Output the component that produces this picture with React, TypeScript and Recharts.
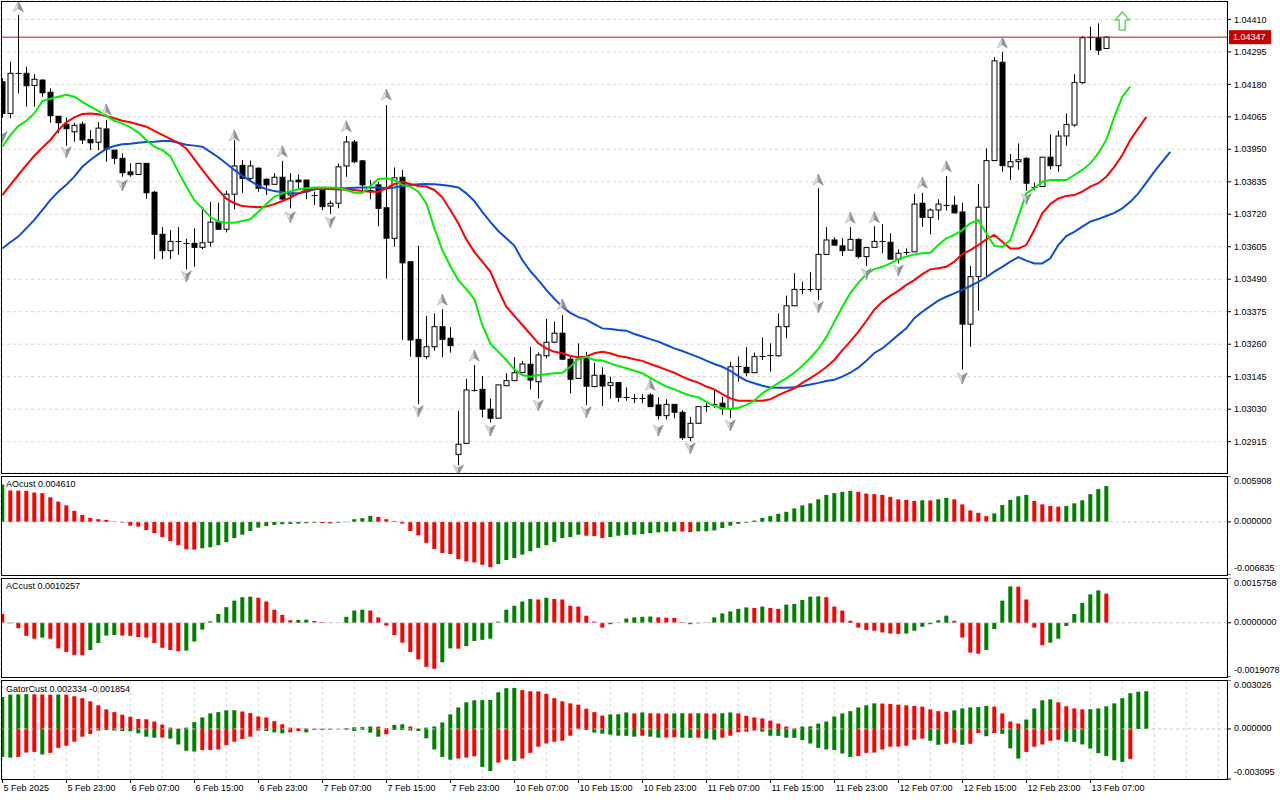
import React from 'react';
import { ComposedChart, Bar, Line, Scatter, XAxis, YAxis, CartesianGrid, ReferenceLine, Cell } from 'recharts';

const FONT = 'Tahoma, "Liberation Sans", Arial, sans-serif';
const FS = 9;
const GREEN = '#008000';
const RED = '#ff0000';

// ---------------- data ----------------
const priceTicks = [1.0441, 1.04295, 1.0418, 1.04065, 1.0395, 1.03835, 1.0372, 1.03605, 1.0349, 1.03375, 1.0326, 1.03145, 1.0303, 1.02915];
const lastPrice = 1.04347;

const timeLabelBars = [0, 8, 16, 24, 32, 40, 48, 56, 64, 72, 80, 88, 96, 104, 112, 120, 128, 136];
const timeLabels = ['5 Feb 2025', '5 Feb 23:00', '6 Feb 07:00', '6 Feb 15:00', '6 Feb 23:00', '7 Feb 07:00', '7 Feb 15:00', '7 Feb 23:00', '10 Feb 07:00', '10 Feb 15:00', '10 Feb 23:00', '11 Feb 07:00', '11 Feb 15:00', '11 Feb 23:00', '12 Feb 07:00', '12 Feb 15:00', '12 Feb 23:00', '13 Feb 07:00'];

const candleOpen = [
  1.04189, 1.04077, 1.04218, 1.04219, 1.04176, 1.04195, 1.04152, 1.04067, 1.04039, 1.04012,
  1.04039, 1.03985, 1.03975, 1.04022, 1.03947, 1.03918, 1.0387, 1.03861, 1.039, 1.03798,
  1.03649, 1.03591, 1.03623, 1.03618, 1.03617, 1.03603, 1.03621, 1.03692, 1.03667, 1.03791,
  1.03893, 1.03847, 1.03883, 1.03844, 1.03826, 1.03851, 1.03788, 1.03841, 1.03841, 1.03788,
  1.03806, 1.03749, 1.03759, 1.03891, 1.03976, 1.03909, 1.03806, 1.03824, 1.03743, 1.03635,
  1.03851, 1.03552, 1.03277, 1.03216, 1.03251, 1.03322, 1.03281, 1.0287, 1.02909, 1.03098,
  1.031, 1.0303, 1.02998, 1.03113, 1.03131, 1.0316, 1.03189, 1.03127, 1.03219, 1.03267,
  1.03299, 1.03207, 1.03139, 1.0321, 1.0311, 1.0315, 1.03114, 1.03124, 1.03071, 1.03068,
  1.03068, 1.0308, 1.03045, 1.03007, 1.03047, 1.03019, 1.0293, 1.0298, 1.03041, 1.03048,
  1.03051, 1.03031, 1.0318, 1.03178, 1.03159, 1.03218, 1.03223, 1.03219, 1.03322, 1.03396,
  1.03454, 1.03454, 1.03454, 1.03578, 1.03629, 1.03608, 1.03593, 1.03631, 1.0357, 1.03603,
  1.03623, 1.03621, 1.03561, 1.03585, 1.03587, 1.03759, 1.03709, 1.03735, 1.03753, 1.03752,
  1.03728, 1.03331, 1.03499, 1.03745, 1.0391, 1.04258, 1.03888, 1.03906, 1.03918, 1.03815,
  1.03818, 1.03922, 1.03892, 1.03997, 1.04036, 1.04186, 1.04345, 1.04345, 1.04307,
];
const candleHigh = [
  1.04202, 1.0426, 1.04425, 1.04242, 1.04216, 1.04198, 1.04166, 1.04067, 1.04063, 1.04044,
  1.04048, 1.04018, 1.04046, 1.04054, 1.03947, 1.03936, 1.039, 1.03901, 1.03901, 1.03802,
  1.03674, 1.03664, 1.03674, 1.03633, 1.0367, 1.03745, 1.03764, 1.03761, 1.03803, 1.03983,
  1.03912, 1.0391, 1.03886, 1.03847, 1.03865, 1.03909, 1.03865, 1.03861, 1.03841, 1.038,
  1.03815, 1.03768, 1.039, 1.03997, 1.03983, 1.03912, 1.03841, 1.03835, 1.04107, 1.03886,
  1.03877, 1.03552, 1.03608, 1.0336, 1.03369, 1.03384, 1.0332, 1.03024, 1.03137, 1.03186,
  1.03147, 1.03068, 1.03116, 1.03157, 1.03214, 1.03201, 1.03251, 1.03231, 1.03349, 1.0334,
  1.03363, 1.03216, 1.03263, 1.03233, 1.03194, 1.03178, 1.03145, 1.03124, 1.03107, 1.03083,
  1.03083, 1.03086, 1.03072, 1.03065, 1.03047, 1.03027, 1.03003, 1.03041, 1.03056, 1.031,
  1.03074, 1.03198, 1.03216, 1.03249, 1.0323, 1.03284, 1.03263, 1.03369, 1.03432, 1.03511,
  1.03481, 1.03516, 1.03812, 1.03674, 1.03638, 1.03635, 1.03674, 1.03635, 1.03604, 1.03678,
  1.03685, 1.03653, 1.03596, 1.03599, 1.03792, 1.03796, 1.03741, 1.03773, 1.03855, 1.03785,
  1.03761, 1.03537, 1.03827, 1.03953, 1.04276, 1.04295, 1.03933, 1.03971, 1.03922, 1.03832,
  1.03923, 1.04003, 1.04016, 1.04077, 1.04216, 1.04351, 1.04384, 1.04396, 1.0435,
];
const candleLow = [
  1.04061, 1.0406, 1.04148, 1.04101, 1.04101, 1.04136, 1.04044, 1.04007, 1.03963, 1.03977,
  1.03969, 1.03947, 1.03947, 1.03906, 1.03897, 1.03853, 1.03853, 1.0386, 1.03774, 1.03561,
  1.03561, 1.03561, 1.03576, 1.03525, 1.03534, 1.03596, 1.03605, 1.03667, 1.03656, 1.03738,
  1.03796, 1.03835, 1.038, 1.03788, 1.03824, 1.0377, 1.03741, 1.03806, 1.03773, 1.03753,
  1.03735, 1.03721, 1.03741, 1.03853, 1.039, 1.03794, 1.03773, 1.03678, 1.03493, 1.03605,
  1.03275, 1.03216, 1.03048, 1.03207, 1.03237, 1.03214, 1.0323, 1.02832, 1.02909, 1.03092,
  1.03001, 1.02982, 1.02998, 1.03113, 1.03131, 1.03157, 1.031, 1.03068, 1.0321, 1.03264,
  1.03204, 1.03086, 1.03139, 1.03045, 1.03107, 1.03041, 1.03068, 1.03056, 1.0306, 1.03051,
  1.03051, 1.03039, 1.02994, 1.02994, 1.02998, 1.02921, 1.02917, 1.0298, 1.03021, 1.03034,
  1.03009, 1.02998, 1.03127, 1.03147, 1.03159, 1.03204, 1.03163, 1.03216, 1.03281, 1.03395,
  1.03438, 1.03446, 1.03416, 1.03576, 1.03608, 1.03572, 1.03593, 1.03564, 1.03537, 1.03603,
  1.03582, 1.03561, 1.03546, 1.03576, 1.03587, 1.03676, 1.03649, 1.037, 1.03733, 1.03723,
  1.03171, 1.03251, 1.03379, 1.03499, 1.0391, 1.03871, 1.03841, 1.03877, 1.03803, 1.03806,
  1.03818, 1.03879, 1.03871, 1.03963, 1.0403, 1.04181, 1.04301, 1.04284, 1.04307,
];
const candleClose = [
  1.04077, 1.04219, 1.0422, 1.04175, 1.04198, 1.0415, 1.04069, 1.04044, 1.04023, 1.04035,
  1.03983, 1.03973, 1.04025, 1.03951, 1.03918, 1.03867, 1.0386, 1.039, 1.03796, 1.03649,
  1.03591, 1.03624, 1.03624, 1.03616, 1.03603, 1.03619, 1.03692, 1.03667, 1.03791, 1.03891,
  1.03847, 1.03891, 1.03812, 1.03824, 1.03851, 1.03774, 1.03838, 1.03835, 1.038, 1.03787,
  1.03747, 1.03759, 1.03888, 1.03976, 1.03906, 1.03824, 1.03805, 1.03741, 1.03635, 1.03849,
  1.03548, 1.03275, 1.03216, 1.03251, 1.03322, 1.03277, 1.03255, 1.02906, 1.03098, 1.03099,
  1.0303, 1.02998, 1.03116, 1.03131, 1.03159, 1.0319, 1.03133, 1.03222, 1.03267, 1.03299,
  1.03207, 1.03136, 1.03207, 1.03111, 1.0315, 1.03112, 1.03124, 1.03072, 1.03072, 1.0307,
  1.03067, 1.03039, 1.03007, 1.03047, 1.03019, 1.02929, 1.0298, 1.03039, 1.03042, 1.03047,
  1.03031, 1.0318, 1.03182, 1.03159, 1.03216, 1.03219, 1.03222, 1.03322, 1.03396, 1.03454,
  1.03455, 1.03455, 1.03578, 1.03629, 1.03611, 1.03591, 1.03631, 1.0357, 1.03602, 1.03624,
  1.03624, 1.03561, 1.03582, 1.03586, 1.03756, 1.03709, 1.03735, 1.03756, 1.03754, 1.03725,
  1.03331, 1.03499, 1.03745, 1.0391, 1.04263, 1.03892, 1.03906, 1.03913, 1.0383, 1.03816,
  1.03922, 1.03892, 1.03997, 1.04038, 1.04186, 1.04345, 1.04346, 1.04301, 1.04347,
];

// Alligator lines (already shifted forward as drawn)
const lipsLine = [
  1.03959, 1.04, 1.04032, 1.04051, 1.04077, 1.04121, 1.04129, 1.04136, 1.04143, 1.04136,
  1.04118, 1.04101, 1.04086, 1.04068, 1.04051, 1.04042, 1.04028, 1.04009, 1.03983, 1.03959,
  1.03947, 1.03926, 1.03871, 1.03818, 1.0377, 1.03741, 1.03711, 1.03694, 1.0369, 1.0369,
  1.03696, 1.03702, 1.03729, 1.03756, 1.03782, 1.03794, 1.03802, 1.03808, 1.03812, 1.03815,
  1.03815, 1.03815, 1.03814, 1.03806, 1.03796, 1.03796, 1.0382, 1.03845, 1.03847, 1.03841,
  1.03824, 1.03818, 1.038, 1.03759, 1.03671, 1.03593, 1.03537, 1.03487, 1.03455, 1.0342,
  1.03328, 1.03263, 1.03233, 1.03204, 1.03171, 1.03151, 1.03145, 1.03151, 1.03154, 1.03157,
  1.03159, 1.0318, 1.03207, 1.03215, 1.03204, 1.03202, 1.03192, 1.03183, 1.03175, 1.03166,
  1.03157, 1.03141, 1.03125, 1.0311, 1.031, 1.03088, 1.03078, 1.03072, 1.03056, 1.03041,
  1.03034, 1.03031, 1.03034, 1.03045, 1.0306, 1.03086, 1.03104, 1.03122, 1.03139, 1.03159,
  1.03183, 1.03211, 1.03243, 1.03285, 1.03339, 1.03392, 1.03441, 1.03477, 1.03508, 1.03526,
  1.03534, 1.03546, 1.03561, 1.0357, 1.03578, 1.03582, 1.03584, 1.03611, 1.03635, 1.03647,
  1.03664, 1.03688, 1.037, 1.03653, 1.03608, 1.03605, 1.03629, 1.03711, 1.03794, 1.03812,
  1.03835, 1.03841, 1.03841, 1.03841, 1.03859, 1.03877, 1.039, 1.03936, 1.03983, 1.04065,
  1.04136, 1.04172,
];
const teethLine = [
  1.03788, 1.03824, 1.03859, 1.03894, 1.03927, 1.03956, 1.03983, 1.04018, 1.04046, 1.04063,
  1.04075, 1.04077, 1.04074, 1.04068, 1.0406, 1.04051, 1.04046, 1.04038, 1.0403, 1.04015,
  1.04001, 1.03987, 1.03973, 1.03953, 1.03915, 1.03877, 1.03841, 1.03806, 1.03775, 1.03759,
  1.03749, 1.03747, 1.03745, 1.03747, 1.03756, 1.03767, 1.03779, 1.03793, 1.03806, 1.03809,
  1.03809, 1.03809, 1.03808, 1.03808, 1.03806, 1.03802, 1.038, 1.038, 1.03812, 1.03827,
  1.03835, 1.03827, 1.0382, 1.03818, 1.03806, 1.0378, 1.03735, 1.03688, 1.03631, 1.03587,
  1.03552, 1.03517, 1.03452, 1.03393, 1.0336, 1.03328, 1.03296, 1.03263, 1.03245, 1.03233,
  1.03228, 1.03218, 1.03214, 1.03216, 1.03228, 1.03233, 1.03228, 1.03218, 1.03214, 1.03207,
  1.03201, 1.0319, 1.0318, 1.03169, 1.03159, 1.03145, 1.03133, 1.03124, 1.0311, 1.031,
  1.03083, 1.03068, 1.0306, 1.0306, 1.0306, 1.0306, 1.03065, 1.0308, 1.03092, 1.03104,
  1.03123, 1.0314, 1.03158, 1.03179, 1.03204, 1.03238, 1.0327, 1.03304, 1.03342, 1.03382,
  1.0341, 1.03431, 1.03449, 1.0347, 1.03487, 1.03508, 1.03525, 1.03529, 1.03534, 1.03552,
  1.03579, 1.03593, 1.03611, 1.03631, 1.03647, 1.03623, 1.03599, 1.03599, 1.03611, 1.03664,
  1.03723, 1.03756, 1.03776, 1.03785, 1.03788, 1.038, 1.03818, 1.0383, 1.03853, 1.03888,
  1.0393, 1.03983, 1.04024, 1.04065,
];
const jawLine = [
  1.03599, 1.03621, 1.03641, 1.0367, 1.037, 1.03735, 1.0377, 1.038, 1.03824, 1.03853,
  1.03888, 1.03912, 1.03933, 1.03951, 1.03962, 1.03968, 1.0397, 1.03973, 1.03976, 1.03977,
  1.03979, 1.03979, 1.03973, 1.03966, 1.03963, 1.03959, 1.03941, 1.03922, 1.039, 1.03877,
  1.03856, 1.03838, 1.03821, 1.03809, 1.03802, 1.03798, 1.03794, 1.03794, 1.038, 1.03808,
  1.03812, 1.03812, 1.03812, 1.03812, 1.03814, 1.03815, 1.03815, 1.03815, 1.03812, 1.03815,
  1.0382, 1.03824, 1.03826, 1.03827, 1.03826, 1.03824, 1.0382, 1.03815, 1.03794, 1.03767,
  1.03728, 1.03693, 1.03661, 1.03635, 1.03609, 1.03558, 1.03519, 1.03487, 1.03452, 1.03421,
  1.03393, 1.03371, 1.03356, 1.03347, 1.03331, 1.03316, 1.03314, 1.0331, 1.03308, 1.03296,
  1.03287, 1.03278, 1.03269, 1.03257, 1.03245, 1.03236, 1.03225, 1.03214, 1.03202, 1.0319,
  1.0318, 1.03166, 1.03147, 1.03131, 1.03122, 1.03113, 1.03107, 1.03106, 1.03106, 1.03108,
  1.03112, 1.03117, 1.03123, 1.0313, 1.03134, 1.03145, 1.03159, 1.03177, 1.03201, 1.03229,
  1.03245, 1.03269, 1.03293, 1.03316, 1.03352, 1.03375, 1.03395, 1.03414, 1.03428, 1.0344,
  1.03452, 1.03466, 1.03481, 1.03497, 1.03517, 1.03534, 1.03552, 1.03568, 1.03556, 1.03546,
  1.03546, 1.03564, 1.03611, 1.03643, 1.03658, 1.03676, 1.03694, 1.03703, 1.03714, 1.03725,
  1.03741, 1.03764, 1.03794, 1.03832, 1.03871, 1.03906, 1.03941,
];

const fractalUpBars = [2, 13, 29, 35, 43, 48, 55, 59, 70, 81, 102, 106, 109, 115, 118, 125];
const fractalUpPrices = [1.04455, 1.04089, 1.03997, 1.03941, 1.0403, 1.04142, 1.03416, 1.03218, 1.03399, 1.03114, 1.03841, 1.03706, 1.03708, 1.0383, 1.03888, 1.04327];
const fractalDownBars = [0, 8, 15, 23, 36, 41, 52, 57, 61, 67, 73, 82, 86, 91, 102, 108, 112, 120, 128];
const fractalDownPrices = [1.03995, 1.03941, 1.03824, 1.03501, 1.03711, 1.03694, 1.03024, 1.02815, 1.02956, 1.03045, 1.03021, 1.02956, 1.02893, 1.02974, 1.03393, 1.03511, 1.03523, 1.03141, 1.03776];
const buySignalBar = 140;
const buySignalPrice = 1.04404;

const aoValues = [
  0.00483, 0.00404, 0.00402, 0.004, 0.00378, 0.0037, 0.00317, 0.00261, 0.00213, 0.00143,
  0.00091, 0.00052, 0.00035, 0.00026, 0.00004, -0.00009, -0.00048, -0.00061, -0.00104, -0.00143,
  -0.00196, -0.00248, -0.003, -0.00352, -0.00357, -0.00339, -0.00326, -0.003, -0.00261, -0.00209,
  -0.00165, -0.00117, -0.00074, -0.00052, -0.00039, -0.0003, -0.00026, -0.00022, -0.00017, -0.00013,
  -0.00016, -0.0002, -0.00013, -0.00004, 0.00035, 0.00048, 0.00078, 0.00065, 0.00035, 0.00009,
  -0.00022, -0.00117, -0.00174, -0.0027, -0.00348, -0.004, -0.00413, -0.00478, -0.00509, -0.00522,
  -0.00552, -0.00583, -0.00543, -0.00491, -0.00465, -0.00422, -0.00378, -0.00335, -0.003, -0.00257,
  -0.00209, -0.00196, -0.00165, -0.00178, -0.00183, -0.00209, -0.00196, -0.00178, -0.0017, -0.00165,
  -0.00157, -0.00143, -0.00135, -0.00126, -0.00122, -0.00124, -0.0013, -0.00122, -0.0012, -0.00109,
  -0.00078, -0.00048, -0.00026, -0.00013, 0.00017, 0.00052, 0.00074, 0.00104, 0.0013, 0.00174,
  0.00213, 0.00239, 0.00291, 0.00348, 0.0037, 0.00387, 0.004, 0.00387, 0.00365, 0.00357,
  0.00348, 0.00322, 0.00291, 0.00283, 0.0027, 0.00278, 0.00276, 0.00291, 0.00309, 0.00291,
  0.00226, 0.00148, 0.00117, 0.00074, 0.00109, 0.00217, 0.00283, 0.0033, 0.00348, 0.0027,
  0.00226, 0.00204, 0.00196, 0.00204, 0.00239, 0.00278, 0.00357, 0.00422, 0.00461,
];
const acValues = [
  0.00031, -0.00002, -0.00019, -0.00046, -0.00056, -0.00052, -0.00056, -0.0009, -0.00103, -0.00113,
  -0.00114, -0.00096, -0.00071, -0.00045, -0.00043, -0.00045, -0.00046, -0.0005, -0.00052, -0.00071,
  -0.00088, -0.00096, -0.001, -0.00098, -0.00066, -0.00024, 0.00005, 0.00031, 0.00055, 0.00078,
  0.0009, 0.00092, 0.00088, 0.00075, 0.00046, 0.00028, 0.00009, 0.0001, 0.00011, 0.00006,
  0.00002, -0.00001, 0.0, 0.00021, 0.00043, 0.00046, 0.00043, 0.00019, -0.0001, -0.00043,
  -0.0007, -0.00103, -0.00129, -0.00155, -0.00162, -0.00139, -0.0009, -0.00091, -0.00082, -0.00064,
  -0.0006, -0.00056, 0.00004, 0.00046, 0.0006, 0.00075, 0.00084, 0.00082, 0.00088, 0.00084,
  0.00082, 0.0006, 0.00057, 0.00025, 0.00004, -0.00017, -0.00005, 0.00001, 0.00015, 0.00019,
  0.00021, 0.00022, 0.00019, 0.00018, 0.00017, 0.00002, -0.00005, -0.00002, 0.00001, 0.00019,
  0.00033, 0.0004, 0.00049, 0.00054, 0.00052, 0.00057, 0.00052, 0.00049, 0.00064, 0.00066,
  0.0008, 0.00092, 0.00093, 0.0009, 0.00057, 0.00043, 0.00007, -0.00017, -0.00025, -0.00028,
  -0.00034, -0.00038, -0.00039, -0.00038, -0.00028, -0.00014, -0.00005, 0.00009, 0.00025, 0.00007,
  -0.00052, -0.00105, -0.00109, -0.00096, -0.00022, 0.00078, 0.00128, 0.00127, 0.00082, -0.00017,
  -0.00079, -0.0007, -0.00056, -0.00011, 0.00031, 0.0007, 0.001, 0.00114, 0.0010257,
];
const gatorUpper = [
  0.00198, 0.00212, 0.00214, 0.00215, 0.00214, 0.00213, 0.00212, 0.00213, 0.00212, 0.00202,
  0.0019, 0.00171, 0.00146, 0.00121, 0.00104, 0.00088, 0.00075, 0.00062, 0.0006, 0.00046,
  0.00027, 0.00008, 0.00002, 0.00008, 0.00042, 0.00071, 0.00096, 0.00104, 0.00115, 0.00116,
  0.00108, 0.00098, 0.00077, 0.00071, 0.00048, 0.00029, 0.00008, 0.00004, 0.00003, 0.00002,
  0.00001, 0.00002, 0.00001, 0.00004, 0.0001, 0.00011, 0.00015, 0.00014, 0.00005, 0.00025,
  0.00029, 0.00015, 0.00002, 0.00008, 0.00015, 0.0004, 0.0009, 0.00133, 0.00165, 0.00177,
  0.00178, 0.00179, 0.00227, 0.00252, 0.00253, 0.0024, 0.00233, 0.00232, 0.00217, 0.0019,
  0.00171, 0.00158, 0.0015, 0.00125, 0.00104, 0.00083, 0.0009, 0.00091, 0.00102, 0.00096,
  0.00102, 0.00097, 0.00096, 0.00095, 0.00096, 0.00097, 0.00096, 0.00097, 0.00096, 0.00095,
  0.00097, 0.00102, 0.00096, 0.00081, 0.00071, 0.00065, 0.00052, 0.00033, 0.00015, 0.00004,
  0.00015, 0.00016, 0.00033, 0.00046, 0.00077, 0.00096, 0.0011, 0.00133, 0.00146, 0.00158,
  0.00157, 0.00154, 0.0015, 0.00146, 0.00142, 0.00138, 0.00121, 0.0011, 0.00106, 0.00115,
  0.00127, 0.00133, 0.00135, 0.00142, 0.00138, 0.00096, 0.00046, 0.00033, 0.00058, 0.00127,
  0.00177, 0.00183, 0.00165, 0.0014, 0.00127, 0.00121, 0.00122, 0.00127, 0.0014, 0.00158,
  0.0019, 0.00221, 0.0023, 0.002334,
];
const gatorLower = [
  -0.00173, -0.00177, -0.00173, -0.00146, -0.00142, -0.00158, -0.00148, -0.00117, -0.00104, -0.00079,
  -0.00048, -0.00031, -0.0001, -0.00006, -0.0001, -0.00013, -0.00014, -0.00027, -0.00048, -0.00054,
  -0.00053, -0.0006, -0.00096, -0.00135, -0.0014, -0.00131, -0.0013, -0.00127, -0.001, -0.00079,
  -0.00062, -0.00048, -0.0001, -0.00013, -0.00021, -0.00027, -0.00021, -0.00013, -0.00021, -0.00006,
  -0.00005, -0.00004, -0.00003, -0.00004, -0.00013, -0.00006, -0.00023, -0.00048, -0.00033, -0.00006,
  -0.00007, -0.0001, -0.00013, -0.00058, -0.00127, -0.00173, -0.0019, -0.00183, -0.00177, -0.00169,
  -0.00235, -0.0026, -0.00208, -0.0019, -0.00198, -0.00183, -0.00148, -0.0011, -0.0009, -0.00079,
  -0.00073, -0.00042, -0.00002, -0.00006, -0.00023, -0.00029, -0.00035, -0.00042, -0.00043, -0.00048,
  -0.00042, -0.00048, -0.00054, -0.00053, -0.00052, -0.00054, -0.00055, -0.00054, -0.0006, -0.00067,
  -0.00054, -0.00042, -0.00021, -0.00017, -0.0001, -0.00017, -0.00042, -0.00043, -0.00054, -0.00055,
  -0.00069, -0.0009, -0.00117, -0.00127, -0.0013, -0.00152, -0.00173, -0.00167, -0.00148, -0.00146,
  -0.00127, -0.0011, -0.00109, -0.00104, -0.00067, -0.0006, -0.00073, -0.00098, -0.00092, -0.00085,
  -0.00098, -0.00092, -0.00025, -0.00045, -0.00025, -0.0003, -0.0012, -0.00183, -0.00142, -0.0011,
  -0.00096, -0.00073, -0.00067, -0.00079, -0.0008, -0.00096, -0.00121, -0.0015, -0.00167, -0.00194,
  -0.00204, -0.001854,
];

const aoDomain: [number, number] = [-0.006835, 0.005908];
const acDomain: [number, number] = [-0.0019078, 0.0015758];
const gatorDomain: [number, number] = [-0.003095, 0.003026];
const priceDomain: [number, number] = [1.02804, 1.04475];
const xDomain: [number, number] = [-0.1625, 153.0875];

// ---------------- derived tables ----------------
const gridBars = Array.from({ length: 39 }, (_, i) => i * 4);

const mainRows = jawLine.map((jaw, k) => ({
  k,
  o: candleOpen[k],
  h: candleHigh[k],
  l: candleLow[k],
  c: candleClose[k],
  lips: lipsLine[k],
  teeth: teethLine[k],
  jaw,
}));

const colorBy = (vals: number[], firstUp: boolean, useAbs = false) =>
  vals.map((v, i) => {
    if (i === 0) return firstUp ? GREEN : RED;
    const a = useAbs ? Math.abs(v) : v;
    const b = useAbs ? Math.abs(vals[i - 1]) : vals[i - 1];
    return a > b ? GREEN : RED;
  });

const aoCols = colorBy(aoValues, true);
const aoRows = aoValues.map((v, k) => ({ k, v, fill: aoCols[k] }));
const acCols = colorBy(acValues, false);
const acRows = acValues.map((v, k) => ({ k, v, fill: acCols[k] }));
const guCols = colorBy(gatorUpper, true);
const glCols = colorBy(gatorLower, true, true);
const gatorRows = gatorUpper.map((up, k) => ({ k, up, dn: gatorLower[k], upFill: guCols[k], dnFill: glCols[k] }));

const fracUpData = fractalUpBars.map((k, i) => ({ k, v: fractalUpPrices[i] }));
const fracDownData = fractalDownBars.map((k, i) => ({ k, v: fractalDownPrices[i] }));
const buyData = [{ k: buySignalBar, v: buySignalPrice }];

// ---------------- shapes ----------------
const candleRange = (d: any) => (d.h === undefined ? undefined : [d.l, d.h]);

const Candle = (props: any) => {
  const { x, y, width, height, payload } = props;
  if (!payload || payload.o === undefined || !isFinite(y) || !isFinite(height)) return <g />;
  const { o, h, l, c } = payload;
  const cx = Math.round(x + width / 2) + 0.5;
  const pix = (v: number) => y + ((h - v) / (h - l)) * height;
  const yo = pix(o);
  const yc = pix(c);
  const top = Math.min(yo, yc);
  const bot = Math.max(yo, yc);
  const bull = c >= o;
  return (
    <g>
      <line x1={cx} x2={cx} y1={y} y2={y + height} stroke="#000" strokeWidth={1} />
      {bot - top < 1.2 ? (
        <line x1={cx - 3} x2={cx + 3} y1={Math.round(top) + 0.5} y2={Math.round(top) + 0.5} stroke="#000" strokeWidth={1} />
      ) : (
        <rect x={cx - 2.5} y={top} width={5} height={bot - top} fill={bull ? '#fff' : '#000'} stroke="#000" strokeWidth={1} />
      )}
    </g>
  );
};

const FractalUp = (props: any) => {
  const { cx, cy } = props;
  if (!isFinite(cx) || !isFinite(cy)) return <g />;
  return (
    <g>
      <polygon points={`${cx},${cy - 6} ${cx - 5},${cy + 5} ${cx},${cy + 2}`} fill="#d9dde2" stroke="#a7acb3" strokeWidth={0.6} />
      <polygon points={`${cx},${cy - 6} ${cx + 5},${cy + 5} ${cx},${cy + 2}`} fill="#8d939b" stroke="#7d838b" strokeWidth={0.6} />
    </g>
  );
};

const FractalDown = (props: any) => {
  const { cx, cy } = props;
  if (!isFinite(cx) || !isFinite(cy)) return <g />;
  return (
    <g>
      <polygon points={`${cx},${cy + 6} ${cx - 5},${cy - 5} ${cx},${cy - 2}`} fill="#d9dde2" stroke="#a7acb3" strokeWidth={0.6} />
      <polygon points={`${cx},${cy + 6} ${cx + 5},${cy - 5} ${cx},${cy - 2}`} fill="#8d939b" stroke="#7d838b" strokeWidth={0.6} />
    </g>
  );
};

const BuyArrow = (props: any) => {
  const { cx, cy } = props;
  if (!isFinite(cx) || !isFinite(cy)) return <g />;
  const pts = [
    [cx, cy - 9],
    [cx + 7, cy - 1],
    [cx + 3, cy - 1],
    [cx + 3, cy + 9],
    [cx - 3, cy + 9],
    [cx - 3, cy - 1],
    [cx - 7, cy - 1],
  ]
    .map((p) => p.join(','))
    .join(' ');
  return <polygon points={pts} fill="#ffffff" stroke="#6fd46f" strokeWidth={1.6} strokeLinejoin="miter" />;
};

const PriceTag = (props: any) => {
  const vb = props.viewBox || {};
  if (vb.x === undefined) return null;
  const x = vb.x + vb.width + 2;
  const y = vb.y;
  return (
    <g>
      <rect x={x} y={y - 7} width={42} height={14} fill="#c40000" />
      <text x={x + 4} y={y} dy="0.36em" fill="#ffffff" fontSize={FS} fontFamily={FONT}>
        {lastPrice.toFixed(5)}
      </text>
    </g>
  );
};

const makeSubTick = (decimals: number, min: number, max: number) => (props: any) => {
  const { x, y, payload } = props;
  const v = payload.value;
  const dy = v === max ? 5 : v === min ? -7 : -1;
  return (
    <text x={x} y={y + dy} dy="0.36em" textAnchor="start" fontSize={FS} fill="#000" fontFamily={FONT}>
      {v.toFixed(decimals)}
    </text>
  );
};

const TimeTick = (props: any) => {
  const { x, y, payload } = props;
  const idx = timeLabelBars.indexOf(payload.value);
  if (idx < 0) return <g />;
  const px = Math.round(x) + 0.5;
  const axisY = y - 6;
  return (
    <g>
      <line x1={px} x2={px} y1={axisY} y2={axisY + 4} stroke="#000" strokeWidth={1} />
      <text x={px + 1} y={axisY + 6} dy="0.71em" textAnchor="start" fontSize={FS} fill="#000" fontFamily={FONT}>
        {timeLabels[idx]}
      </text>
    </g>
  );
};

// ---------------- panels ----------------
const frame = (top: number, height: number): React.CSSProperties => ({
  position: 'absolute',
  left: 1,
  top,
  width: 1227,
  height,
  border: '1px solid #000',
  boxSizing: 'border-box',
  pointerEvents: 'none',
});

const titleStyle = (top: number): React.CSSProperties => ({
  position: 'absolute',
  left: 6,
  top,
  fontSize: FS,
  lineHeight: '12px',
  fontFamily: FONT,
  color: '#000',
  whiteSpace: 'nowrap',
});

function HistPanel(props: { top: number; rows: any[]; domain: [number, number]; decimals: number; title: string }) {
  const { top, rows, domain, decimals, title } = props;
  return (
    <div style={{ position: 'absolute', left: 0, top, width: 1280, height: 99 }}>
      <ComposedChart width={1280} height={99} data={rows} margin={{ top: 0, right: 0, bottom: 0, left: 1 }}>
        <CartesianGrid stroke="#d4d4d4" strokeDasharray="3 3" horizontal={false} />
        <XAxis dataKey="k" type="number" domain={xDomain} allowDataOverflow ticks={gridBars} interval={0} height={0} tick={false} tickLine={false} axisLine={false} />
        <YAxis
          orientation="right"
          width={53}
          type="number"
          domain={domain}
          allowDataOverflow
          ticks={[domain[0], 0, domain[1]]}
          interval={0}
          tick={makeSubTick(decimals, domain[0], domain[1])}
          tickSize={4}
          tickMargin={3}
          tickLine={{ stroke: '#000' }}
          axisLine={false}
        />
        <ReferenceLine y={0} stroke="#c8c8c8" strokeDasharray="3 3" />
        <Bar dataKey="v" barSize={4} isAnimationActive={false}>
          {rows.map((r) => (
            <Cell key={r.k} fill={r.fill} />
          ))}
        </Bar>
      </ComposedChart>
      <div style={titleStyle(2)}>{title}</div>
    </div>
  );
}

export default function App() {
  return (
    <div style={{ position: 'absolute', left: 0, top: 0, width: 1280, height: 800, background: '#fff', fontFamily: FONT, overflow: 'hidden' }}>
      {/* price panel */}
      <div style={{ position: 'absolute', left: 0, top: 0, width: 1280, height: 473 }}>
        <ComposedChart width={1280} height={473} data={mainRows} margin={{ top: 1, right: 0, bottom: 0, left: 1 }}>
          <CartesianGrid stroke="#d4d4d4" strokeDasharray="3 3" />
          <XAxis dataKey="k" type="number" domain={xDomain} allowDataOverflow ticks={gridBars} interval={0} height={0} tick={false} tickLine={false} axisLine={false} />
          <YAxis
            orientation="right"
            width={53}
            type="number"
            domain={priceDomain}
            allowDataOverflow
            ticks={priceTicks}
            interval={0}
            tickFormatter={(v: number) => v.toFixed(5)}
            tick={{ fontSize: FS, fill: '#000', fontFamily: FONT }}
            tickSize={4}
            tickMargin={3}
            tickLine={{ stroke: '#000' }}
            axisLine={false}
          />
          <ReferenceLine y={lastPrice} stroke="#b01515" strokeWidth={1} label={<PriceTag />} />
          <Bar dataKey={candleRange} shape={<Candle />} barSize={5} isAnimationActive={false} />
          <Line type="linear" dataKey="jaw" stroke="#0c4fd6" strokeWidth={2} dot={false} activeDot={false} isAnimationActive={false} />
          <Line type="linear" dataKey="teeth" stroke="#ff0000" strokeWidth={2} dot={false} activeDot={false} isAnimationActive={false} />
          <Line type="linear" dataKey="lips" stroke="#00ee00" strokeWidth={2} dot={false} activeDot={false} isAnimationActive={false} />
          <Scatter data={fracUpData} dataKey="v" shape={<FractalUp />} isAnimationActive={false} />
          <Scatter data={fracDownData} dataKey="v" shape={<FractalDown />} isAnimationActive={false} />
          <Scatter data={buyData} dataKey="v" shape={<BuyArrow />} isAnimationActive={false} />
        </ComposedChart>
      </div>
      <div style={frame(1, 473)} />

      <HistPanel top={476} rows={aoRows} domain={aoDomain} decimals={6} title={`AOcust ${aoValues[aoValues.length - 1].toFixed(6)}`} />
      <div style={frame(476, 100)} />

      <HistPanel top={578} rows={acRows} domain={acDomain} decimals={7} title={`ACcust ${acValues[acValues.length - 1].toFixed(7)}`} />
      <div style={frame(578, 100)} />

      {/* gator panel */}
      <div style={{ position: 'absolute', left: 0, top: 680, width: 1280, height: 120 }}>
        <ComposedChart width={1280} height={120} data={gatorRows} margin={{ top: 0, right: 0, bottom: 0, left: 1 }} stackOffset="sign">
          <CartesianGrid stroke="#d4d4d4" strokeDasharray="3 3" horizontal={false} />
          <XAxis dataKey="k" type="number" domain={xDomain} allowDataOverflow ticks={gridBars} interval={0} height={21} tick={<TimeTick />} tickSize={4} tickMargin={2} tickLine={false} axisLine={false} />
          <YAxis
            orientation="right"
            width={53}
            type="number"
            domain={gatorDomain}
            allowDataOverflow
            ticks={[gatorDomain[0], 0, gatorDomain[1]]}
            interval={0}
            tick={makeSubTick(6, gatorDomain[0], gatorDomain[1])}
            tickSize={4}
            tickMargin={3}
            tickLine={{ stroke: '#000' }}
            axisLine={false}
          />
          <ReferenceLine y={0} stroke="#c8c8c8" strokeDasharray="3 3" />
          <Bar dataKey="up" stackId="g" barSize={4} isAnimationActive={false}>
            {gatorRows.map((r) => (
              <Cell key={r.k} fill={r.upFill} />
            ))}
          </Bar>
          <Bar dataKey="dn" stackId="g" barSize={4} isAnimationActive={false}>
            {gatorRows.map((r) => (
              <Cell key={r.k} fill={r.dnFill} />
            ))}
          </Bar>
        </ComposedChart>
        <div style={titleStyle(3)}>{`GatorCust ${gatorUpper[gatorUpper.length - 1].toFixed(6)} ${gatorLower[gatorLower.length - 1].toFixed(6)}`}</div>
      </div>
      <div style={frame(680, 100)} />
    </div>
  );
}
